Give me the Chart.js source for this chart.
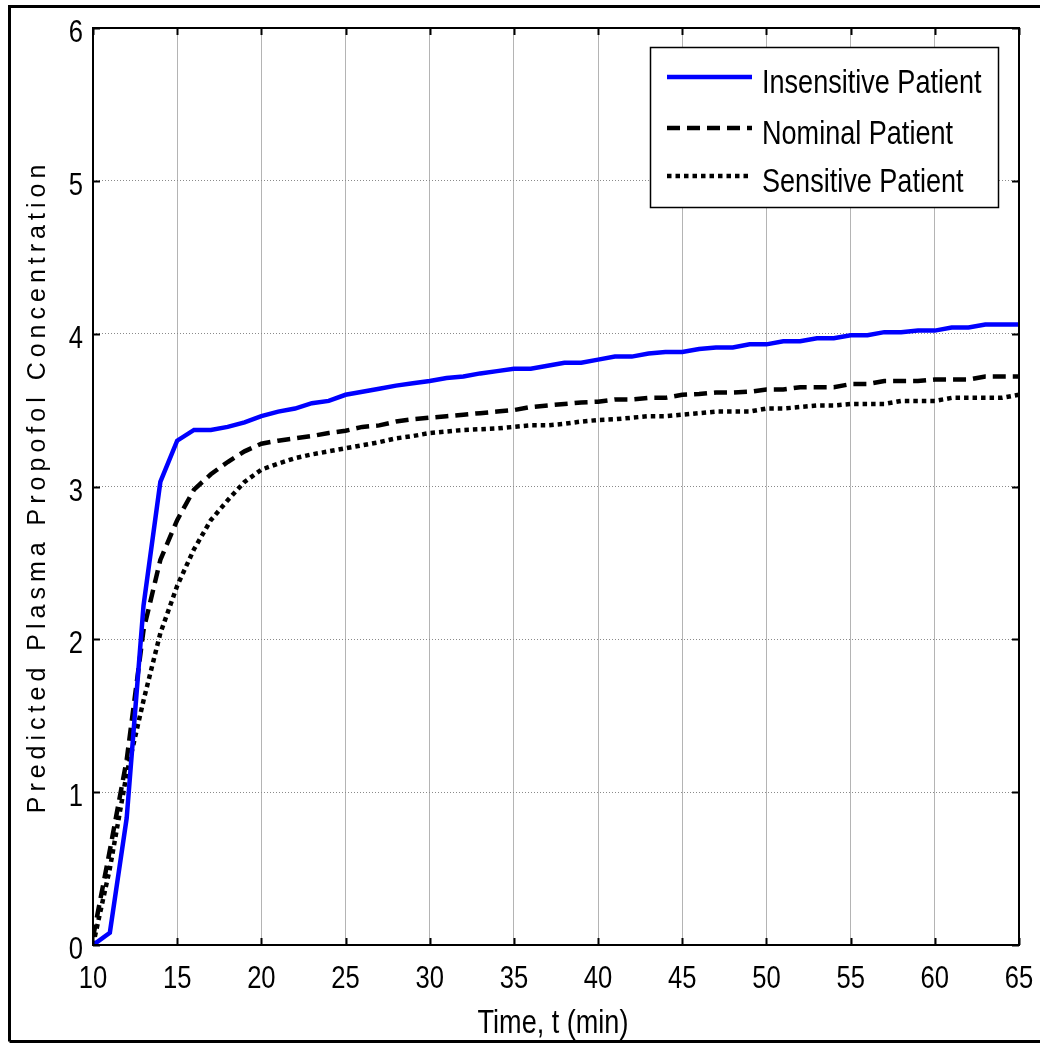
<!DOCTYPE html>
<html>
<head>
<meta charset="utf-8">
<title>Predicted Plasma Propofol Concentration</title>
<script src="https://cdn.jsdelivr.net/npm/chart.js@4.4.1/dist/chart.umd.min.js"></script>
<style>
  html, body { margin: 0; padding: 0; background: #fff; }
  #chart { display: block; }
</style>
</head>
<body>
<canvas id="chart" width="1040" height="1043"></canvas>
<script>
// time axis, minutes
const times = [10, 11, 12, 13, 14, 15, 16, 17, 18, 19,
  20, 21, 22, 23, 24, 25, 26, 27, 28, 29,
  30, 31, 32, 33, 34, 35, 36, 37, 38, 39,
  40, 41, 42, 43, 44, 45, 46, 47, 48, 49,
  50, 51, 52, 53, 54, 55, 56, 57, 58, 59,
  60, 61, 62, 63, 64, 65];

const insensitive = [0.00, 0.08, 0.83, 2.22, 3.03, 3.30, 3.37, 3.37, 3.39, 3.42,
  3.46, 3.49, 3.51, 3.545, 3.56, 3.60, 3.62, 3.64, 3.66, 3.675,
  3.69, 3.71, 3.72, 3.74, 3.755, 3.77, 3.77, 3.79, 3.81, 3.81,
  3.83, 3.85, 3.85, 3.87, 3.88, 3.88, 3.90, 3.91, 3.91, 3.93,
  3.93, 3.95, 3.95, 3.97, 3.97, 3.99, 3.99, 4.01, 4.01, 4.02,
  4.02, 4.04, 4.04, 4.06, 4.06, 4.06];

const nominal = [0.05, 0.62, 1.21, 2.06, 2.52, 2.78, 2.98, 3.08, 3.16, 3.23,
  3.28, 3.30, 3.315, 3.33, 3.35, 3.365, 3.39, 3.40, 3.425, 3.44,
  3.45, 3.46, 3.47, 3.48, 3.49, 3.50, 3.52, 3.53, 3.54, 3.55,
  3.555, 3.57, 3.57, 3.58, 3.58, 3.60, 3.605, 3.615, 3.615, 3.62,
  3.635, 3.635, 3.65, 3.65, 3.65, 3.67, 3.67, 3.69, 3.69, 3.69,
  3.70, 3.70, 3.70, 3.72, 3.72, 3.72];

const sensitive = [0.00, 0.50, 1.12, 1.60, 2.04, 2.35, 2.59, 2.78, 2.91, 3.03,
  3.11, 3.15, 3.185, 3.21, 3.23, 3.25, 3.27, 3.29, 3.315, 3.33,
  3.35, 3.36, 3.37, 3.375, 3.38, 3.39, 3.40, 3.40, 3.41, 3.425,
  3.435, 3.44, 3.45, 3.46, 3.46, 3.47, 3.48, 3.49, 3.49, 3.49,
  3.51, 3.51, 3.52, 3.53, 3.53, 3.54, 3.54, 3.54, 3.56, 3.56,
  3.56, 3.58, 3.58, 3.58, 3.58, 3.60];

const seriesLabels = ['Insensitive Patient', 'Nominal Patient', 'Sensitive Patient'];
const xTicks = [10, 15, 20, 25, 30, 35, 40, 45, 50, 55, 60, 65];
const yTicks = [0, 1, 2, 3, 4, 5, 6];

const sans = "'Liberation Sans', Arial, sans-serif";

function points(values) {
  return times.map((t, i) => ({ x: t, y: values[i] }));
}

// condensed text: regular sans squeezed horizontally (no narrow face installed)
function narrowText(ctx, text, x, y, size, align, squeeze) {
  ctx.save();
  ctx.translate(x, y);
  ctx.scale(squeeze || 0.8, 1);
  ctx.font = size + 'px ' + sans;
  ctx.fillStyle = '#000';
  ctx.textAlign = align;
  ctx.textBaseline = 'alphabetic';
  ctx.fillText(text, 0, 0);
  ctx.restore();
}

// frame around the whole figure, box + inward ticks, tick labels and titles
const figureDecor = {
  id: 'figureDecor',
  afterDatasetsDraw(chart) {
    const ctx = chart.ctx;
    const area = chart.chartArea;
    const xs = chart.scales.x;
    const ys = chart.scales.y;
    ctx.save();

    // axes box
    ctx.strokeStyle = '#000';
    ctx.lineWidth = 2;
    ctx.strokeRect(area.left, area.top, area.right - area.left, area.bottom - area.top);

    // inward tick marks on all four sides
    const len = 7;
    ctx.beginPath();
    xTicks.forEach(v => {
      const px = Math.round(xs.getPixelForValue(v)) + 0.5;
      ctx.moveTo(px, area.bottom);
      ctx.lineTo(px, area.bottom - len);
      ctx.moveTo(px, area.top);
      ctx.lineTo(px, area.top + len);
    });
    yTicks.forEach(v => {
      const py = Math.round(ys.getPixelForValue(v)) + 0.5;
      ctx.moveTo(area.left, py);
      ctx.lineTo(area.left + len, py);
      ctx.moveTo(area.right, py);
      ctx.lineTo(area.right - len, py);
    });
    ctx.stroke();
    ctx.restore();
  },
  afterDraw(chart) {
    const ctx = chart.ctx;
    const area = chart.chartArea;
    const xs = chart.scales.x;
    const ys = chart.scales.y;

    // tick labels
    xTicks.forEach(v => {
      narrowText(ctx, String(v), xs.getPixelForValue(v), area.bottom + 43, 32, 'center', 0.8);
    });
    yTicks.forEach(v => {
      narrowText(ctx, String(v), area.left - 10, ys.getPixelForValue(v) + 14, 32, 'right', 0.8);
    });

    // x axis title
    narrowText(ctx, 'Time, t (min)', (area.left + area.right) / 2 - 3, 1033, 33, 'center', 0.82);

    // y axis title, slightly letter-spaced
    ctx.save();
    ctx.fillStyle = '#000';
    ctx.font = '25px ' + sans;
    if ('letterSpacing' in ctx) ctx.letterSpacing = '5px';
    ctx.textAlign = 'center';
    ctx.textBaseline = 'middle';
    ctx.translate(38, (area.top + area.bottom) / 2);
    ctx.rotate(-Math.PI / 2);
    ctx.fillText('Predicted Plasma Propofol Concentration', 0, 0);
    ctx.restore();

    // outer figure frame (right edge falls outside the canvas)
    ctx.save();
    ctx.strokeStyle = '#000';
    ctx.lineWidth = 3;
    ctx.beginPath();
    ctx.moveTo(9.5, 1041.5);
    ctx.lineTo(9.5, 6.5);
    ctx.lineTo(1045, 6.5);
    ctx.moveTo(9.5, 1041.5);
    ctx.lineTo(1045, 1041.5);
    ctx.stroke();
    ctx.restore();
  }
};

// boxed legend in the upper right of the axes
const boxLegend = {
  id: 'boxLegend',
  afterDraw(chart) {
    const ctx = chart.ctx;
    const box = { left: 650, top: 47, right: 998, bottom: 207 };
    const rows = [77, 128, 176];
    ctx.save();
    ctx.fillStyle = '#fff';
    ctx.fillRect(box.left, box.top, box.right - box.left, box.bottom - box.top);
    ctx.strokeStyle = '#000';
    ctx.lineWidth = 1.5;
    ctx.strokeRect(box.left + 0.5, box.top + 0.5, box.right - box.left, box.bottom - box.top);

    chart.data.datasets.forEach((ds, i) => {
      const y = rows[i];
      ctx.strokeStyle = ds.borderColor;
      ctx.lineWidth = ds.borderWidth;
      ctx.lineCap = 'butt';
      ctx.setLineDash(ds.borderDash || []);
      ctx.beginPath();
      ctx.moveTo(667, y);
      ctx.lineTo(752, y);
      ctx.stroke();
      ctx.setLineDash([]);
      narrowText(ctx, ds.label, 762, y + 16, 33, 'left', 0.82);
    });
    ctx.restore();
  }
};

const config = {
  type: 'line',
  data: {
    datasets: [
      {
        label: seriesLabels[0],
        data: points(insensitive),
        borderColor: '#0000ff',
        borderWidth: 4.5,
        pointRadius: 0,
        tension: 0
      },
      {
        label: seriesLabels[1],
        data: points(nominal),
        borderColor: '#000000',
        borderWidth: 4.5,
        borderDash: [13, 7],
        pointRadius: 0,
        tension: 0
      },
      {
        label: seriesLabels[2],
        data: points(sensitive),
        borderColor: '#000000',
        borderWidth: 4.5,
        borderDash: [4.5, 4],
        pointRadius: 0,
        tension: 0
      }
    ]
  },
  options: {
    responsive: false,
    animation: false,
    events: [],
    layout: { padding: { top: 28, right: 21, left: 0, bottom: 0 } },
    plugins: {
      legend: { display: false },
      tooltip: { enabled: false }
    },
    scales: {
      x: {
        type: 'linear',
        min: 10,
        max: 65,
        afterBuildTicks(scale) {
          scale.ticks = xTicks.map(v => ({ value: v }));
        },
        afterFit(scale) { scale.height = 98; },
        grid: { color: '#b4b4b4', lineWidth: 1, drawTicks: false },
        border: { display: false },
        ticks: { display: false }
      },
      y: {
        min: 0,
        max: 6,
        afterBuildTicks(scale) {
          scale.ticks = yTicks.map(v => ({ value: v }));
        },
        afterFit(scale) { scale.width = 93; },
        grid: { color: '#8a8a8a', lineWidth: 1, drawTicks: false },
        border: { display: false, dash: [1, 2] },
        ticks: { display: false }
      }
    }
  },
  plugins: [figureDecor, boxLegend]
};

new Chart(document.getElementById('chart'), config);
</script>
</body>
</html>
